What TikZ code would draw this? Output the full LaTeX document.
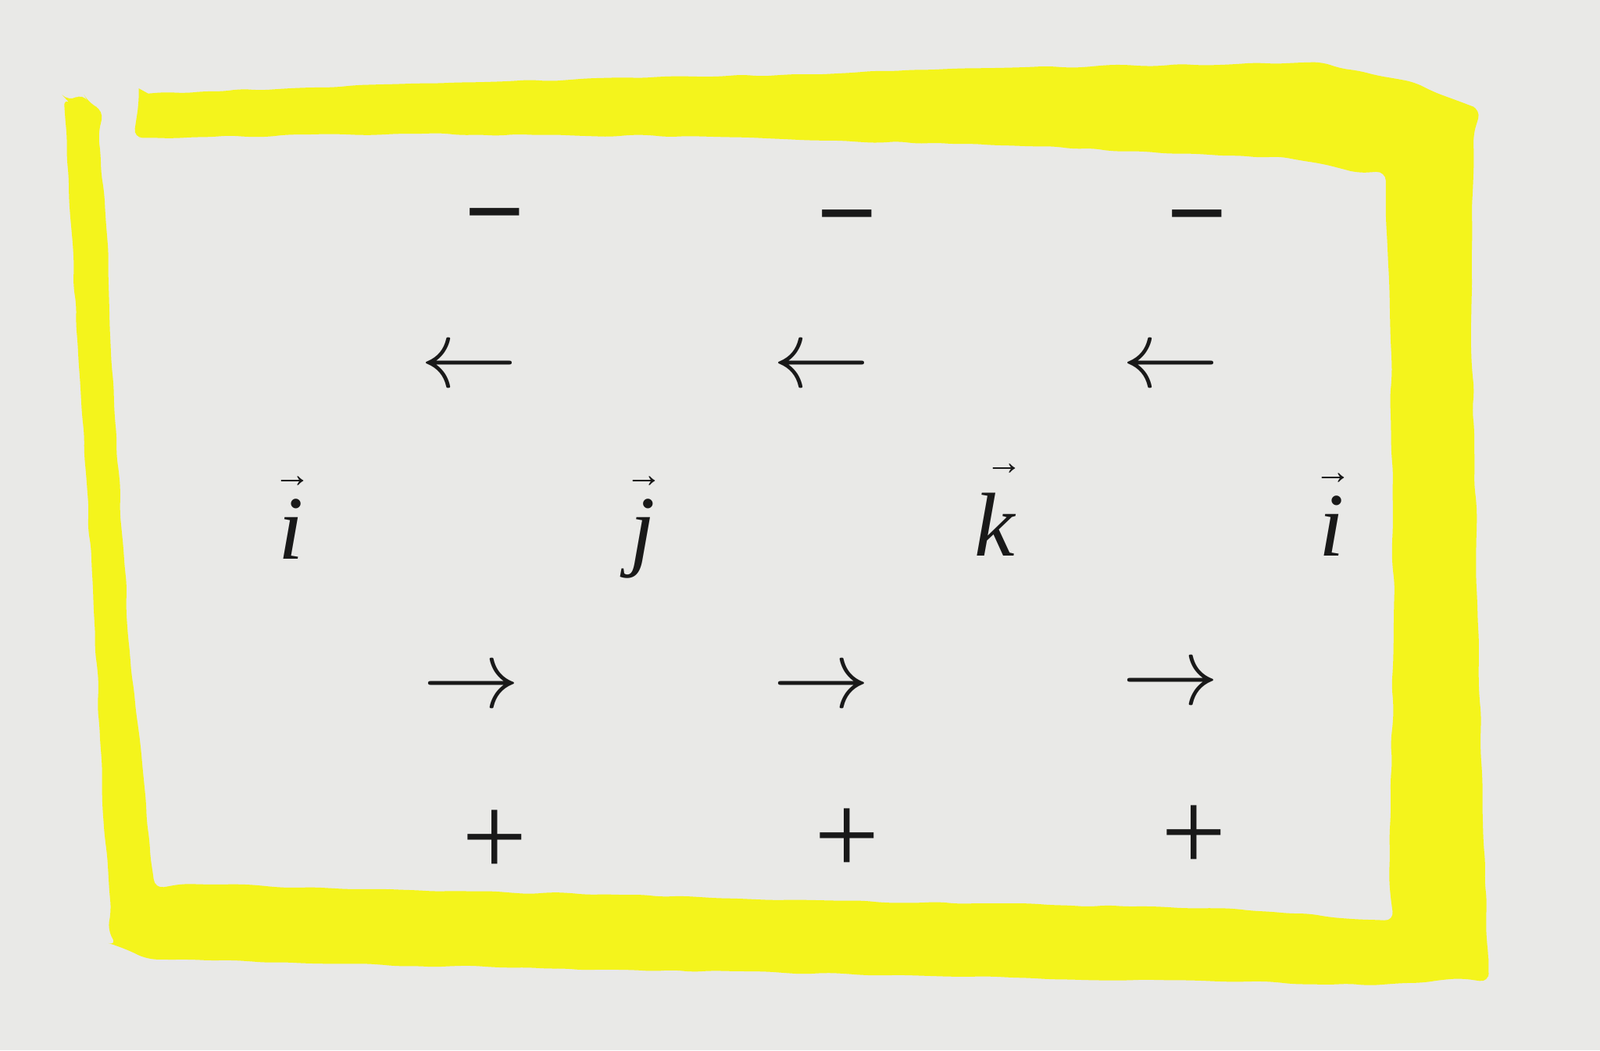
\RequirePackage{fix-cm}
\documentclass[tikz,border=0pt]{standalone}
\usepackage{fontspec}
\setmainfont{Liberation Serif}
\usetikzlibrary{decorations.pathmorphing}
\definecolor{paper}{RGB}{233,233,231}
\definecolor{marker}{RGB}{244,244,28}
\newcommand{\vecarrow}[2]{{\itshape #1}\makebox[0pt][r]{\raisebox{#2}{\fontsize{24}{24}\selectfont →}\kern-5pt}}
\tikzset{
  arr/.style={font=\fontsize{62}{70}\selectfont, inner sep=0pt, text=black!90},
  minus/.style={font=\fontsize{68}{70}\selectfont\bfseries, inner sep=0pt, anchor=base, text=black!90},
  plus/.style={font=\fontsize{74}{80}\selectfont, inner sep=0pt, anchor=base, text=black!90},
  vecl/.style={font=\fontsize{58}{70}\selectfont, inner sep=0pt, anchor=base, text=black!90}
}
\begin{document}
\begin{tikzpicture}[x=0.653pt,y=-0.653pt]
\useasboundingbox (0,0) rectangle (1568,1029);
\fill[paper] (0,0) rectangle (1568,1029);
% highlighter frame
\fill[marker, rounded corners=6pt,
      decorate, decoration={random steps, segment length=12pt, amplitude=0.8pt}]
  (136,92) -- (400,82) -- (700,75) -- (1000,66) -- (1287,61) -- (1378,79) -- (1445,105)
  -- (1442,300) -- (1448,600) -- (1453,800) -- (1459,957)
  -- (1350,965) -- (1000,958) -- (600,950) -- (306,944) -- (153,940) -- (115,927)
  -- (110,919) -- (102,812) -- (92,600) -- (80,400) -- (68,200) -- (63,102)
  -- (75,95) -- (95,105)
  -- (104,220) -- (112,400) -- (128,650) -- (151,865)
  -- (400,872) -- (800,882) -- (1200,890) -- (1361,902)
  -- (1366,600) -- (1362,300) -- (1358,174)
  -- (1263,155) -- (1000,143) -- (700,134) -- (400,131) -- (136,135) -- cycle;
% minus row
\node[minus] (m1) at (485,242) {−};
\node[minus] (m2) at (830,244) {−};
\node[minus] (m3) at (1173,244) {−};
% left arrows
\node[arr] (l1) at (460,362) {$\leftarrow$};
\node[arr] (l2) at (805,362) {$\leftarrow$};
\node[arr] (l3) at (1147,362) {$\leftarrow$};
% vectors
\node[vecl] (v1) at (285,548) {\vecarrow{i}{46pt}};
\node[vecl] (v2) at (630,548) {\vecarrow{j}{46pt}};
\node[vecl] (v3) at (975,545) {\vecarrow{k}{52pt}};
\node[vecl] (v4) at (1305,545) {\vecarrow{i}{46pt}};
% right arrows
\node[arr] (r1) at (462,676) {$\rightarrow$};
\node[arr] (r2) at (805,676) {$\rightarrow$};
\node[arr] (r3) at (1147,673) {$\rightarrow$};
% plus row
\node[plus] (p1) at (485,858) {+};
\node[plus] (p2) at (830,856) {+};
\node[plus] (p3) at (1170,853) {+};
\end{tikzpicture}
\end{document}
